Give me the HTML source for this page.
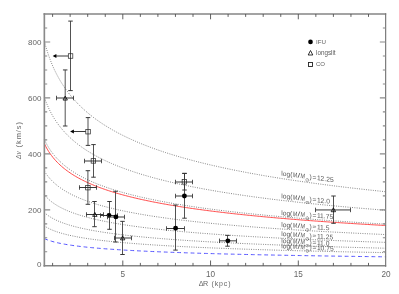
<!DOCTYPE html>
<html><head><meta charset="utf-8"><title>plot</title>
<style>html,body{margin:0;padding:0;background:#fff}svg{display:block;font-family:"Liberation Sans","DejaVu Sans",sans-serif}</style>
</head><body>
<div style="will-change:transform;width:399px;height:294px">
<svg width="399" height="294" viewBox="0 0 399 294">
<rect width="399" height="294" fill="#fff"/>
<path d="M44.40 41.31 L45.82 46.57 L47.25 51.29 L48.67 55.58 L50.09 59.50 L51.52 63.12 L52.94 66.48 L54.36 69.62 L55.79 72.56 L57.21 75.32 L58.64 77.94 L60.06 80.42 L61.48 82.77 L62.91 85.01 L64.33 87.15 L65.75 89.19 L67.18 91.15 L68.60 93.03 L70.02 94.84 L71.45 96.58 L72.87 98.26 L74.29 99.87 L75.72 101.44 L77.14 102.95 L78.56 104.41 L79.99 105.83 L81.41 107.21 L82.84 108.54 L84.26 109.84 L85.68 111.10 L87.11 112.32 L88.53 113.52 L89.95 114.68 L91.38 115.81 L92.80 116.92 L94.22 117.99 L95.65 119.05 L97.07 120.07 L98.49 121.08 L99.92 122.06 L101.34 123.02 L102.77 123.96 L104.19 124.88 L105.61 125.78 L107.04 126.66 L108.46 127.53 L109.88 128.38 L111.31 129.21 L112.73 130.02 L114.15 130.82 L115.58 131.61 L117.00 132.38 L118.42 133.13 L119.85 133.88 L121.27 134.61 L122.69 135.33 L124.12 136.03 L125.54 136.73 L126.97 137.41 L128.39 138.08 L129.81 138.74 L131.24 139.39 L132.66 140.03 L134.08 140.66 L135.51 141.29 L136.93 141.90 L138.35 142.50 L139.78 143.09 L141.20 143.68 L142.62 144.26 L144.05 144.82 L145.47 145.39 L146.90 145.94 L148.32 146.48 L149.74 147.02 L151.17 147.55 L152.59 148.08 L154.01 148.59 L155.44 149.10 L156.86 149.61 L158.28 150.11 L159.71 150.60 L161.13 151.08 L162.55 151.56 L163.98 152.03 L165.40 152.50 L166.82 152.96 L168.25 153.42 L169.67 153.87 L171.10 154.32 L172.52 154.76 L173.94 155.19 L175.37 155.62 L176.79 156.05 L178.21 156.47 L179.64 156.89 L181.06 157.30 L182.48 157.71 L183.91 158.11 L185.33 158.51 L186.75 158.90 L188.18 159.29 L189.60 159.68 L191.02 160.06 L192.45 160.44 L193.87 160.82 L195.30 161.19 L196.72 161.55 L198.14 161.92 L199.57 162.28 L200.99 162.64 L202.41 162.99 L203.84 163.34 L205.26 163.68 L206.68 164.03 L208.11 164.37 L209.53 164.70 L210.95 165.04 L212.38 165.37 L213.80 165.70 L215.22 166.02 L216.65 166.34 L218.07 166.66 L219.50 166.98 L220.92 167.29 L222.34 167.60 L223.77 167.91 L225.19 168.21 L226.61 168.52 L228.04 168.82 L229.46 169.11 L230.88 169.41 L232.31 169.70 L233.73 169.99 L235.15 170.28 L236.58 170.56 L238.00 170.84 L239.43 171.13 L240.85 171.40 L242.27 171.68 L243.70 171.95 L245.12 172.22 L246.54 172.49 L247.97 172.76 L249.39 173.03 L250.81 173.29 L252.24 173.55 L253.66 173.81 L255.08 174.07 L256.51 174.32 L257.93 174.58 L259.35 174.83 L260.78 175.08 L262.20 175.33 L263.63 175.57 L265.05 175.82 L266.47 176.06 L267.90 176.30 L269.32 176.54 L270.74 176.78 L272.17 177.01 L273.59 177.24 L275.01 177.48 L276.44 177.71 L277.86 177.94 L279.28 178.16 L280.71 178.39 L282.13 178.61 L283.56 178.84 L284.98 179.06 L286.40 179.28 L287.83 179.50 L289.25 179.71 L290.67 179.93 L292.10 180.14 L293.52 180.35 L294.94 180.57 L296.37 180.78 L297.79 180.98 L299.21 181.19 L300.64 181.40 L302.06 181.60 L303.48 181.80 L304.91 182.01 L306.33 182.21 L307.76 182.41 L309.18 182.60 L310.60 182.80 L312.03 183.00 L313.45 183.19 L314.87 183.38 L316.30 183.57 L317.72 183.77 L319.14 183.96 L320.57 184.14 L321.99 184.33 L323.41 184.52 L324.84 184.70 L326.26 184.89 L327.68 185.07 L329.11 185.25 L330.53 185.43 L331.96 185.61 L333.38 185.79 L334.80 185.97 L336.23 186.14 L337.65 186.32 L339.07 186.50 L340.50 186.67 L341.92 186.84 L343.34 187.01 L344.77 187.18 L346.19 187.35 L347.61 187.52 L349.04 187.69 L350.46 187.86 L351.89 188.02 L353.31 188.19 L354.73 188.35 L356.16 188.52 L357.58 188.68 L359.00 188.84 L360.43 189.00 L361.85 189.16 L363.27 189.32 L364.70 189.48 L366.12 189.63 L367.54 189.79 L368.97 189.95 L370.39 190.10 L371.81 190.26 L373.24 190.41 L374.66 190.56 L376.09 190.71 L377.51 190.86 L378.93 191.01 L380.36 191.16 L381.78 191.31 L383.20 191.46 L384.63 191.61 L386.05 191.75" fill="none" stroke="#6a6a6a" stroke-width="0.9" stroke-dasharray="0.9 1.4"/>
<path d="M44.40 97.46 L45.82 101.40 L47.25 104.94 L48.67 108.15 L50.09 111.10 L51.52 113.81 L52.94 116.33 L54.36 118.68 L55.79 120.89 L57.21 122.96 L58.64 124.92 L60.06 126.78 L61.48 128.55 L62.91 130.23 L64.33 131.83 L65.75 133.36 L67.18 134.83 L68.60 136.24 L70.02 137.60 L71.45 138.90 L72.87 140.16 L74.29 141.37 L75.72 142.55 L77.14 143.68 L78.56 144.78 L79.99 145.84 L81.41 146.87 L82.84 147.87 L84.26 148.84 L85.68 149.79 L87.11 150.71 L88.53 151.60 L89.95 152.47 L91.38 153.32 L92.80 154.15 L94.22 154.96 L95.65 155.75 L97.07 156.52 L98.49 157.27 L99.92 158.01 L101.34 158.73 L102.77 159.44 L104.19 160.13 L105.61 160.80 L107.04 161.46 L108.46 162.11 L109.88 162.75 L111.31 163.37 L112.73 163.98 L114.15 164.58 L115.58 165.17 L117.00 165.75 L118.42 166.31 L119.85 166.87 L121.27 167.42 L122.69 167.96 L124.12 168.49 L125.54 169.01 L126.97 169.52 L128.39 170.03 L129.81 170.52 L131.24 171.01 L132.66 171.49 L134.08 171.96 L135.51 172.43 L136.93 172.89 L138.35 173.34 L139.78 173.78 L141.20 174.22 L142.62 174.65 L144.05 175.08 L145.47 175.50 L146.90 175.92 L148.32 176.33 L149.74 176.73 L151.17 177.13 L152.59 177.52 L154.01 177.91 L155.44 178.29 L156.86 178.67 L158.28 179.04 L159.71 179.41 L161.13 179.77 L162.55 180.13 L163.98 180.49 L165.40 180.84 L166.82 181.18 L168.25 181.53 L169.67 181.86 L171.10 182.20 L172.52 182.53 L173.94 182.86 L175.37 183.18 L176.79 183.50 L178.21 183.81 L179.64 184.13 L181.06 184.44 L182.48 184.74 L183.91 185.04 L185.33 185.34 L186.75 185.64 L188.18 185.93 L189.60 186.22 L191.02 186.51 L192.45 186.79 L193.87 187.07 L195.30 187.35 L196.72 187.63 L198.14 187.90 L199.57 188.17 L200.99 188.44 L202.41 188.70 L203.84 188.96 L205.26 189.22 L206.68 189.48 L208.11 189.74 L209.53 189.99 L210.95 190.24 L212.38 190.49 L213.80 190.73 L215.22 190.98 L216.65 191.22 L218.07 191.46 L219.50 191.69 L220.92 191.93 L222.34 192.16 L223.77 192.39 L225.19 192.62 L226.61 192.85 L228.04 193.07 L229.46 193.29 L230.88 193.52 L232.31 193.73 L233.73 193.95 L235.15 194.17 L236.58 194.38 L238.00 194.59 L239.43 194.80 L240.85 195.01 L242.27 195.22 L243.70 195.42 L245.12 195.63 L246.54 195.83 L247.97 196.03 L249.39 196.23 L250.81 196.43 L252.24 196.62 L253.66 196.82 L255.08 197.01 L256.51 197.20 L257.93 197.39 L259.35 197.58 L260.78 197.77 L262.20 197.95 L263.63 198.14 L265.05 198.32 L266.47 198.50 L267.90 198.68 L269.32 198.86 L270.74 199.04 L272.17 199.22 L273.59 199.39 L275.01 199.57 L276.44 199.74 L277.86 199.91 L279.28 200.08 L280.71 200.25 L282.13 200.42 L283.56 200.59 L284.98 200.75 L286.40 200.92 L287.83 201.08 L289.25 201.24 L290.67 201.40 L292.10 201.57 L293.52 201.72 L294.94 201.88 L296.37 202.04 L297.79 202.20 L299.21 202.35 L300.64 202.51 L302.06 202.66 L303.48 202.81 L304.91 202.96 L306.33 203.11 L307.76 203.26 L309.18 203.41 L310.60 203.56 L312.03 203.71 L313.45 203.85 L314.87 204.00 L316.30 204.14 L317.72 204.28 L319.14 204.43 L320.57 204.57 L321.99 204.71 L323.41 204.85 L324.84 204.99 L326.26 205.12 L327.68 205.26 L329.11 205.40 L330.53 205.53 L331.96 205.67 L333.38 205.80 L334.80 205.93 L336.23 206.07 L337.65 206.20 L339.07 206.33 L340.50 206.46 L341.92 206.59 L343.34 206.72 L344.77 206.85 L346.19 206.97 L347.61 207.10 L349.04 207.23 L350.46 207.35 L351.89 207.48 L353.31 207.60 L354.73 207.72 L356.16 207.85 L357.58 207.97 L359.00 208.09 L360.43 208.21 L361.85 208.33 L363.27 208.45 L364.70 208.57 L366.12 208.68 L367.54 208.80 L368.97 208.92 L370.39 209.03 L371.81 209.15 L373.24 209.26 L374.66 209.38 L376.09 209.49 L377.51 209.61 L378.93 209.72 L380.36 209.83 L381.78 209.94 L383.20 210.05 L384.63 210.16 L386.05 210.27" fill="none" stroke="#6a6a6a" stroke-width="0.9" stroke-dasharray="0.9 1.4"/>
<path d="M44.40 139.56 L45.82 142.52 L47.25 145.17 L48.67 147.58 L50.09 149.79 L51.52 151.82 L52.94 153.71 L54.36 155.48 L55.79 157.13 L57.21 158.69 L58.64 160.16 L60.06 161.55 L61.48 162.87 L62.91 164.13 L64.33 165.34 L65.75 166.49 L67.18 167.59 L68.60 168.65 L70.02 169.66 L71.45 170.64 L72.87 171.58 L74.29 172.49 L75.72 173.37 L77.14 174.22 L78.56 175.05 L79.99 175.84 L81.41 176.62 L82.84 177.37 L84.26 178.10 L85.68 178.80 L87.11 179.49 L88.53 180.16 L89.95 180.82 L91.38 181.46 L92.80 182.08 L94.22 182.68 L95.65 183.27 L97.07 183.85 L98.49 184.42 L99.92 184.97 L101.34 185.51 L102.77 186.04 L104.19 186.56 L105.61 187.06 L107.04 187.56 L108.46 188.04 L109.88 188.52 L111.31 188.99 L112.73 189.45 L114.15 189.90 L115.58 190.34 L117.00 190.77 L118.42 191.20 L119.85 191.61 L121.27 192.03 L122.69 192.43 L124.12 192.83 L125.54 193.22 L126.97 193.60 L128.39 193.98 L129.81 194.35 L131.24 194.72 L132.66 195.08 L134.08 195.43 L135.51 195.78 L136.93 196.12 L138.35 196.46 L139.78 196.80 L141.20 197.13 L142.62 197.45 L144.05 197.77 L145.47 198.09 L146.90 198.40 L148.32 198.70 L149.74 199.01 L151.17 199.30 L152.59 199.60 L154.01 199.89 L155.44 200.18 L156.86 200.46 L158.28 200.74 L159.71 201.02 L161.13 201.29 L162.55 201.56 L163.98 201.82 L165.40 202.09 L166.82 202.35 L168.25 202.60 L169.67 202.86 L171.10 203.11 L172.52 203.36 L173.94 203.60 L175.37 203.84 L176.79 204.08 L178.21 204.32 L179.64 204.55 L181.06 204.79 L182.48 205.01 L183.91 205.24 L185.33 205.47 L186.75 205.69 L188.18 205.91 L189.60 206.12 L191.02 206.34 L192.45 206.55 L193.87 206.76 L195.30 206.97 L196.72 207.18 L198.14 207.38 L199.57 207.59 L200.99 207.79 L202.41 207.98 L203.84 208.18 L205.26 208.38 L206.68 208.57 L208.11 208.76 L209.53 208.95 L210.95 209.14 L212.38 209.32 L213.80 209.51 L215.22 209.69 L216.65 209.87 L218.07 210.05 L219.50 210.23 L220.92 210.40 L222.34 210.58 L223.77 210.75 L225.19 210.92 L226.61 211.09 L228.04 211.26 L229.46 211.43 L230.88 211.59 L232.31 211.76 L233.73 211.92 L235.15 212.08 L236.58 212.24 L238.00 212.40 L239.43 212.56 L240.85 212.72 L242.27 212.87 L243.70 213.03 L245.12 213.18 L246.54 213.33 L247.97 213.48 L249.39 213.63 L250.81 213.78 L252.24 213.92 L253.66 214.07 L255.08 214.22 L256.51 214.36 L257.93 214.50 L259.35 214.64 L260.78 214.78 L262.20 214.92 L263.63 215.06 L265.05 215.20 L266.47 215.33 L267.90 215.47 L269.32 215.60 L270.74 215.74 L272.17 215.87 L273.59 216.00 L275.01 216.13 L276.44 216.26 L277.86 216.39 L279.28 216.52 L280.71 216.65 L282.13 216.77 L283.56 216.90 L284.98 217.02 L286.40 217.14 L287.83 217.27 L289.25 217.39 L290.67 217.51 L292.10 217.63 L293.52 217.75 L294.94 217.87 L296.37 217.99 L297.79 218.10 L299.21 218.22 L300.64 218.34 L302.06 218.45 L303.48 218.57 L304.91 218.68 L306.33 218.79 L307.76 218.90 L309.18 219.01 L310.60 219.13 L312.03 219.24 L313.45 219.34 L314.87 219.45 L316.30 219.56 L317.72 219.67 L319.14 219.78 L320.57 219.88 L321.99 219.99 L323.41 220.09 L324.84 220.20 L326.26 220.30 L327.68 220.40 L329.11 220.50 L330.53 220.61 L331.96 220.71 L333.38 220.81 L334.80 220.91 L336.23 221.01 L337.65 221.11 L339.07 221.20 L340.50 221.30 L341.92 221.40 L343.34 221.49 L344.77 221.59 L346.19 221.69 L347.61 221.78 L349.04 221.88 L350.46 221.97 L351.89 222.06 L353.31 222.16 L354.73 222.25 L356.16 222.34 L357.58 222.43 L359.00 222.52 L360.43 222.61 L361.85 222.70 L363.27 222.79 L364.70 222.88 L366.12 222.97 L367.54 223.06 L368.97 223.14 L370.39 223.23 L371.81 223.32 L373.24 223.40 L374.66 223.49 L376.09 223.58 L377.51 223.66 L378.93 223.74 L380.36 223.83 L381.78 223.91 L383.20 224.00 L384.63 224.08 L386.05 224.16" fill="none" stroke="#6a6a6a" stroke-width="0.9" stroke-dasharray="0.9 1.4"/>
<path d="M44.40 171.13 L45.82 173.35 L47.25 175.34 L48.67 177.15 L50.09 178.80 L51.52 180.33 L52.94 181.75 L54.36 183.07 L55.79 184.31 L57.21 185.48 L58.64 186.58 L60.06 187.62 L61.48 188.62 L62.91 189.56 L64.33 190.46 L65.75 191.33 L67.18 192.15 L68.60 192.94 L70.02 193.71 L71.45 194.44 L72.87 195.15 L74.29 195.83 L75.72 196.49 L77.14 197.13 L78.56 197.74 L79.99 198.34 L81.41 198.92 L82.84 199.48 L84.26 200.03 L85.68 200.56 L87.11 201.08 L88.53 201.58 L89.95 202.07 L91.38 202.55 L92.80 203.02 L94.22 203.47 L95.65 203.91 L97.07 204.35 L98.49 204.77 L99.92 205.19 L101.34 205.59 L102.77 205.99 L104.19 206.37 L105.61 206.75 L107.04 207.13 L108.46 207.49 L109.88 207.85 L111.31 208.20 L112.73 208.54 L114.15 208.88 L115.58 209.21 L117.00 209.54 L118.42 209.86 L119.85 210.17 L121.27 210.48 L122.69 210.78 L124.12 211.08 L125.54 211.37 L126.97 211.66 L128.39 211.94 L129.81 212.22 L131.24 212.49 L132.66 212.76 L134.08 213.03 L135.51 213.29 L136.93 213.55 L138.35 213.80 L139.78 214.06 L141.20 214.30 L142.62 214.55 L144.05 214.79 L145.47 215.02 L146.90 215.25 L148.32 215.48 L149.74 215.71 L151.17 215.94 L152.59 216.16 L154.01 216.37 L155.44 216.59 L156.86 216.80 L158.28 217.01 L159.71 217.22 L161.13 217.42 L162.55 217.63 L163.98 217.83 L165.40 218.02 L166.82 218.22 L168.25 218.41 L169.67 218.60 L171.10 218.79 L172.52 218.97 L173.94 219.16 L175.37 219.34 L176.79 219.52 L178.21 219.70 L179.64 219.87 L181.06 220.05 L182.48 220.22 L183.91 220.39 L185.33 220.56 L186.75 220.72 L188.18 220.89 L189.60 221.05 L191.02 221.21 L192.45 221.37 L193.87 221.53 L195.30 221.69 L196.72 221.84 L198.14 221.99 L199.57 222.15 L200.99 222.30 L202.41 222.44 L203.84 222.59 L205.26 222.74 L206.68 222.88 L208.11 223.03 L209.53 223.17 L210.95 223.31 L212.38 223.45 L213.80 223.59 L215.22 223.72 L216.65 223.86 L218.07 223.99 L219.50 224.13 L220.92 224.26 L222.34 224.39 L223.77 224.52 L225.19 224.65 L226.61 224.78 L228.04 224.90 L229.46 225.03 L230.88 225.15 L232.31 225.27 L233.73 225.40 L235.15 225.52 L236.58 225.64 L238.00 225.76 L239.43 225.88 L240.85 225.99 L242.27 226.11 L243.70 226.23 L245.12 226.34 L246.54 226.45 L247.97 226.57 L249.39 226.68 L250.81 226.79 L252.24 226.90 L253.66 227.01 L255.08 227.12 L256.51 227.22 L257.93 227.33 L259.35 227.44 L260.78 227.54 L262.20 227.65 L263.63 227.75 L265.05 227.85 L266.47 227.96 L267.90 228.06 L269.32 228.16 L270.74 228.26 L272.17 228.36 L273.59 228.46 L275.01 228.55 L276.44 228.65 L277.86 228.75 L279.28 228.84 L280.71 228.94 L282.13 229.03 L283.56 229.13 L284.98 229.22 L286.40 229.31 L287.83 229.41 L289.25 229.50 L290.67 229.59 L292.10 229.68 L293.52 229.77 L294.94 229.86 L296.37 229.95 L297.79 230.03 L299.21 230.12 L300.64 230.21 L302.06 230.29 L303.48 230.38 L304.91 230.46 L306.33 230.55 L307.76 230.63 L309.18 230.72 L310.60 230.80 L312.03 230.88 L313.45 230.96 L314.87 231.05 L316.30 231.13 L317.72 231.21 L319.14 231.29 L320.57 231.37 L321.99 231.44 L323.41 231.52 L324.84 231.60 L326.26 231.68 L327.68 231.76 L329.11 231.83 L330.53 231.91 L331.96 231.98 L333.38 232.06 L334.80 232.14 L336.23 232.21 L337.65 232.28 L339.07 232.36 L340.50 232.43 L341.92 232.50 L343.34 232.58 L344.77 232.65 L346.19 232.72 L347.61 232.79 L349.04 232.86 L350.46 232.93 L351.89 233.00 L353.31 233.07 L354.73 233.14 L356.16 233.21 L357.58 233.28 L359.00 233.35 L360.43 233.41 L361.85 233.48 L363.27 233.55 L364.70 233.62 L366.12 233.68 L367.54 233.75 L368.97 233.81 L370.39 233.88 L371.81 233.94 L373.24 234.01 L374.66 234.07 L376.09 234.14 L377.51 234.20 L378.93 234.26 L380.36 234.33 L381.78 234.39 L383.20 234.45 L384.63 234.51 L386.05 234.57" fill="none" stroke="#6a6a6a" stroke-width="0.9" stroke-dasharray="0.9 1.4"/>
<path d="M44.40 194.81 L45.82 196.47 L47.25 197.97 L48.67 199.32 L50.09 200.56 L51.52 201.71 L52.94 202.77 L54.36 203.76 L55.79 204.69 L57.21 205.57 L58.64 206.39 L60.06 207.18 L61.48 207.92 L62.91 208.63 L64.33 209.31 L65.75 209.95 L67.18 210.57 L68.60 211.17 L70.02 211.74 L71.45 212.29 L72.87 212.82 L74.29 213.33 L75.72 213.82 L77.14 214.30 L78.56 214.76 L79.99 215.21 L81.41 215.65 L82.84 216.07 L84.26 216.48 L85.68 216.88 L87.11 217.27 L88.53 217.64 L89.95 218.01 L91.38 218.37 L92.80 218.72 L94.22 219.06 L95.65 219.39 L97.07 219.72 L98.49 220.04 L99.92 220.35 L101.34 220.65 L102.77 220.95 L104.19 221.24 L105.61 221.52 L107.04 221.80 L108.46 222.07 L109.88 222.34 L111.31 222.61 L112.73 222.86 L114.15 223.12 L115.58 223.36 L117.00 223.61 L118.42 223.85 L119.85 224.08 L121.27 224.31 L122.69 224.54 L124.12 224.76 L125.54 224.98 L126.97 225.20 L128.39 225.41 L129.81 225.62 L131.24 225.83 L132.66 226.03 L134.08 226.23 L135.51 226.43 L136.93 226.62 L138.35 226.81 L139.78 227.00 L141.20 227.18 L142.62 227.36 L144.05 227.54 L145.47 227.72 L146.90 227.90 L148.32 228.07 L149.74 228.24 L151.17 228.41 L152.59 228.57 L154.01 228.74 L155.44 228.90 L156.86 229.06 L158.28 229.21 L159.71 229.37 L161.13 229.52 L162.55 229.67 L163.98 229.82 L165.40 229.97 L166.82 230.12 L168.25 230.26 L169.67 230.40 L171.10 230.55 L172.52 230.69 L173.94 230.82 L175.37 230.96 L176.79 231.09 L178.21 231.23 L179.64 231.36 L181.06 231.49 L182.48 231.62 L183.91 231.75 L185.33 231.87 L186.75 232.00 L188.18 232.12 L189.60 232.24 L191.02 232.36 L192.45 232.48 L193.87 232.60 L195.30 232.72 L196.72 232.83 L198.14 232.95 L199.57 233.06 L200.99 233.18 L202.41 233.29 L203.84 233.40 L205.26 233.51 L206.68 233.62 L208.11 233.72 L209.53 233.83 L210.95 233.94 L212.38 234.04 L213.80 234.14 L215.22 234.25 L216.65 234.35 L218.07 234.45 L219.50 234.55 L220.92 234.65 L222.34 234.75 L223.77 234.84 L225.19 234.94 L226.61 235.04 L228.04 235.13 L229.46 235.22 L230.88 235.32 L232.31 235.41 L233.73 235.50 L235.15 235.59 L236.58 235.68 L238.00 235.77 L239.43 235.86 L240.85 235.95 L242.27 236.04 L243.70 236.12 L245.12 236.21 L246.54 236.29 L247.97 236.38 L249.39 236.46 L250.81 236.55 L252.24 236.63 L253.66 236.71 L255.08 236.79 L256.51 236.87 L257.93 236.95 L259.35 237.03 L260.78 237.11 L262.20 237.19 L263.63 237.27 L265.05 237.34 L266.47 237.42 L267.90 237.50 L269.32 237.57 L270.74 237.65 L272.17 237.72 L273.59 237.80 L275.01 237.87 L276.44 237.94 L277.86 238.02 L279.28 238.09 L280.71 238.16 L282.13 238.23 L283.56 238.30 L284.98 238.37 L286.40 238.44 L287.83 238.51 L289.25 238.58 L290.67 238.64 L292.10 238.71 L293.52 238.78 L294.94 238.85 L296.37 238.91 L297.79 238.98 L299.21 239.04 L300.64 239.11 L302.06 239.17 L303.48 239.24 L304.91 239.30 L306.33 239.37 L307.76 239.43 L309.18 239.49 L310.60 239.55 L312.03 239.61 L313.45 239.68 L314.87 239.74 L316.30 239.80 L317.72 239.86 L319.14 239.92 L320.57 239.98 L321.99 240.04 L323.41 240.10 L324.84 240.15 L326.26 240.21 L327.68 240.27 L329.11 240.33 L330.53 240.39 L331.96 240.44 L333.38 240.50 L334.80 240.56 L336.23 240.61 L337.65 240.67 L339.07 240.72 L340.50 240.78 L341.92 240.83 L343.34 240.89 L344.77 240.94 L346.19 240.99 L347.61 241.05 L349.04 241.10 L350.46 241.15 L351.89 241.20 L353.31 241.26 L354.73 241.31 L356.16 241.36 L357.58 241.41 L359.00 241.46 L360.43 241.51 L361.85 241.56 L363.27 241.61 L364.70 241.66 L366.12 241.71 L367.54 241.76 L368.97 241.81 L370.39 241.86 L371.81 241.91 L373.24 241.96 L374.66 242.01 L376.09 242.06 L377.51 242.10 L378.93 242.15 L380.36 242.20 L381.78 242.24 L383.20 242.29 L384.63 242.34 L386.05 242.38" fill="none" stroke="#6a6a6a" stroke-width="0.9" stroke-dasharray="0.9 1.4"/>
<path d="M44.40 212.57 L45.82 213.81 L47.25 214.93 L48.67 215.95 L50.09 216.88 L51.52 217.74 L52.94 218.53 L54.36 219.28 L55.79 219.97 L57.21 220.63 L58.64 221.25 L60.06 221.84 L61.48 222.40 L62.91 222.93 L64.33 223.43 L65.75 223.92 L67.18 224.38 L68.60 224.83 L70.02 225.26 L71.45 225.67 L72.87 226.07 L74.29 226.45 L75.72 226.82 L77.14 227.18 L78.56 227.53 L79.99 227.87 L81.41 228.19 L82.84 228.51 L84.26 228.82 L85.68 229.11 L87.11 229.40 L88.53 229.69 L89.95 229.96 L91.38 230.23 L92.80 230.49 L94.22 230.75 L95.65 231.00 L97.07 231.24 L98.49 231.48 L99.92 231.71 L101.34 231.94 L102.77 232.16 L104.19 232.38 L105.61 232.60 L107.04 232.81 L108.46 233.01 L109.88 233.21 L111.31 233.41 L112.73 233.60 L114.15 233.79 L115.58 233.98 L117.00 234.16 L118.42 234.34 L119.85 234.52 L121.27 234.69 L122.69 234.86 L124.12 235.03 L125.54 235.19 L126.97 235.35 L128.39 235.51 L129.81 235.67 L131.24 235.82 L132.66 235.98 L134.08 236.13 L135.51 236.27 L136.93 236.42 L138.35 236.56 L139.78 236.70 L141.20 236.84 L142.62 236.98 L144.05 237.11 L145.47 237.25 L146.90 237.38 L148.32 237.51 L149.74 237.63 L151.17 237.76 L152.59 237.88 L154.01 238.01 L155.44 238.13 L156.86 238.25 L158.28 238.36 L159.71 238.48 L161.13 238.60 L162.55 238.71 L163.98 238.82 L165.40 238.93 L166.82 239.04 L168.25 239.15 L169.67 239.26 L171.10 239.36 L172.52 239.47 L173.94 239.57 L175.37 239.67 L176.79 239.77 L178.21 239.87 L179.64 239.97 L181.06 240.07 L182.48 240.17 L183.91 240.26 L185.33 240.36 L186.75 240.45 L188.18 240.54 L189.60 240.64 L191.02 240.73 L192.45 240.82 L193.87 240.90 L195.30 240.99 L196.72 241.08 L198.14 241.17 L199.57 241.25 L200.99 241.34 L202.41 241.42 L203.84 241.50 L205.26 241.58 L206.68 241.67 L208.11 241.75 L209.53 241.83 L210.95 241.91 L212.38 241.98 L213.80 242.06 L215.22 242.14 L216.65 242.21 L218.07 242.29 L219.50 242.37 L220.92 242.44 L222.34 242.51 L223.77 242.59 L225.19 242.66 L226.61 242.73 L228.04 242.80 L229.46 242.87 L230.88 242.94 L232.31 243.01 L233.73 243.08 L235.15 243.15 L236.58 243.22 L238.00 243.28 L239.43 243.35 L240.85 243.42 L242.27 243.48 L243.70 243.55 L245.12 243.61 L246.54 243.67 L247.97 243.74 L249.39 243.80 L250.81 243.86 L252.24 243.92 L253.66 243.99 L255.08 244.05 L256.51 244.11 L257.93 244.17 L259.35 244.23 L260.78 244.29 L262.20 244.35 L263.63 244.40 L265.05 244.46 L266.47 244.52 L267.90 244.58 L269.32 244.63 L270.74 244.69 L272.17 244.74 L273.59 244.80 L275.01 244.86 L276.44 244.91 L277.86 244.96 L279.28 245.02 L280.71 245.07 L282.13 245.12 L283.56 245.18 L284.98 245.23 L286.40 245.28 L287.83 245.33 L289.25 245.39 L290.67 245.44 L292.10 245.49 L293.52 245.54 L294.94 245.59 L296.37 245.64 L297.79 245.69 L299.21 245.74 L300.64 245.78 L302.06 245.83 L303.48 245.88 L304.91 245.93 L306.33 245.98 L307.76 246.02 L309.18 246.07 L310.60 246.12 L312.03 246.16 L313.45 246.21 L314.87 246.26 L316.30 246.30 L317.72 246.35 L319.14 246.39 L320.57 246.44 L321.99 246.48 L323.41 246.52 L324.84 246.57 L326.26 246.61 L327.68 246.66 L329.11 246.70 L330.53 246.74 L331.96 246.78 L333.38 246.83 L334.80 246.87 L336.23 246.91 L337.65 246.95 L339.07 246.99 L340.50 247.04 L341.92 247.08 L343.34 247.12 L344.77 247.16 L346.19 247.20 L347.61 247.24 L349.04 247.28 L350.46 247.32 L351.89 247.36 L353.31 247.40 L354.73 247.43 L356.16 247.47 L357.58 247.51 L359.00 247.55 L360.43 247.59 L361.85 247.63 L363.27 247.66 L364.70 247.70 L366.12 247.74 L367.54 247.78 L368.97 247.81 L370.39 247.85 L371.81 247.89 L373.24 247.92 L374.66 247.96 L376.09 247.99 L377.51 248.03 L378.93 248.07 L380.36 248.10 L381.78 248.14 L383.20 248.17 L384.63 248.21 L386.05 248.24" fill="none" stroke="#6a6a6a" stroke-width="0.9" stroke-dasharray="0.9 1.4"/>
<path d="M44.40 225.88 L45.82 226.82 L47.25 227.65 L48.67 228.42 L50.09 229.11 L51.52 229.76 L52.94 230.36 L54.36 230.91 L55.79 231.44 L57.21 231.93 L58.64 232.39 L60.06 232.83 L61.48 233.25 L62.91 233.65 L64.33 234.03 L65.75 234.39 L67.18 234.74 L68.60 235.08 L70.02 235.40 L71.45 235.71 L72.87 236.01 L74.29 236.29 L75.72 236.57 L77.14 236.84 L78.56 237.10 L79.99 237.35 L81.41 237.60 L82.84 237.83 L84.26 238.07 L85.68 238.29 L87.11 238.51 L88.53 238.72 L89.95 238.93 L91.38 239.13 L92.80 239.32 L94.22 239.52 L95.65 239.70 L97.07 239.89 L98.49 240.06 L99.92 240.24 L101.34 240.41 L102.77 240.58 L104.19 240.74 L105.61 240.90 L107.04 241.06 L108.46 241.21 L109.88 241.36 L111.31 241.51 L112.73 241.65 L114.15 241.80 L115.58 241.94 L117.00 242.07 L118.42 242.21 L119.85 242.34 L121.27 242.47 L122.69 242.60 L124.12 242.72 L125.54 242.85 L126.97 242.97 L128.39 243.09 L129.81 243.21 L131.24 243.32 L132.66 243.44 L134.08 243.55 L135.51 243.66 L136.93 243.77 L138.35 243.87 L139.78 243.98 L141.20 244.08 L142.62 244.19 L144.05 244.29 L145.47 244.39 L146.90 244.49 L148.32 244.58 L149.74 244.68 L151.17 244.77 L152.59 244.87 L154.01 244.96 L155.44 245.05 L156.86 245.14 L158.28 245.23 L159.71 245.31 L161.13 245.40 L162.55 245.49 L163.98 245.57 L165.40 245.65 L166.82 245.73 L168.25 245.82 L169.67 245.90 L171.10 245.98 L172.52 246.05 L173.94 246.13 L175.37 246.21 L176.79 246.28 L178.21 246.36 L179.64 246.43 L181.06 246.51 L182.48 246.58 L183.91 246.65 L185.33 246.72 L186.75 246.79 L188.18 246.86 L189.60 246.93 L191.02 247.00 L192.45 247.06 L193.87 247.13 L195.30 247.20 L196.72 247.26 L198.14 247.33 L199.57 247.39 L200.99 247.45 L202.41 247.52 L203.84 247.58 L205.26 247.64 L206.68 247.70 L208.11 247.76 L209.53 247.82 L210.95 247.88 L212.38 247.94 L213.80 248.00 L215.22 248.06 L216.65 248.11 L218.07 248.17 L219.50 248.23 L220.92 248.28 L222.34 248.34 L223.77 248.39 L225.19 248.45 L226.61 248.50 L228.04 248.55 L229.46 248.61 L230.88 248.66 L232.31 248.71 L233.73 248.76 L235.15 248.81 L236.58 248.86 L238.00 248.91 L239.43 248.96 L240.85 249.01 L242.27 249.06 L243.70 249.11 L245.12 249.16 L246.54 249.21 L247.97 249.26 L249.39 249.30 L250.81 249.35 L252.24 249.40 L253.66 249.44 L255.08 249.49 L256.51 249.53 L257.93 249.58 L259.35 249.62 L260.78 249.67 L262.20 249.71 L263.63 249.75 L265.05 249.80 L266.47 249.84 L267.90 249.88 L269.32 249.93 L270.74 249.97 L272.17 250.01 L273.59 250.05 L275.01 250.09 L276.44 250.13 L277.86 250.18 L279.28 250.22 L280.71 250.26 L282.13 250.30 L283.56 250.34 L284.98 250.37 L286.40 250.41 L287.83 250.45 L289.25 250.49 L290.67 250.53 L292.10 250.57 L293.52 250.61 L294.94 250.64 L296.37 250.68 L297.79 250.72 L299.21 250.75 L300.64 250.79 L302.06 250.83 L303.48 250.86 L304.91 250.90 L306.33 250.93 L307.76 250.97 L309.18 251.01 L310.60 251.04 L312.03 251.08 L313.45 251.11 L314.87 251.14 L316.30 251.18 L317.72 251.21 L319.14 251.25 L320.57 251.28 L321.99 251.31 L323.41 251.35 L324.84 251.38 L326.26 251.41 L327.68 251.44 L329.11 251.48 L330.53 251.51 L331.96 251.54 L333.38 251.57 L334.80 251.60 L336.23 251.64 L337.65 251.67 L339.07 251.70 L340.50 251.73 L341.92 251.76 L343.34 251.79 L344.77 251.82 L346.19 251.85 L347.61 251.88 L349.04 251.91 L350.46 251.94 L351.89 251.97 L353.31 252.00 L354.73 252.03 L356.16 252.06 L357.58 252.09 L359.00 252.11 L360.43 252.14 L361.85 252.17 L363.27 252.20 L364.70 252.23 L366.12 252.26 L367.54 252.28 L368.97 252.31 L370.39 252.34 L371.81 252.37 L373.24 252.39 L374.66 252.42 L376.09 252.45 L377.51 252.47 L378.93 252.50 L380.36 252.53 L381.78 252.55 L383.20 252.58 L384.63 252.61 L386.05 252.63" fill="none" stroke="#6a6a6a" stroke-width="0.9" stroke-dasharray="0.9 1.4"/>
<path d="M44.40 143.73 L45.82 146.59 L47.25 149.16 L48.67 151.49 L50.09 153.62 L51.52 155.59 L52.94 157.42 L54.36 159.12 L55.79 160.72 L57.21 162.23 L58.64 163.65 L60.06 165.00 L61.48 166.28 L62.91 167.50 L64.33 168.66 L65.75 169.77 L67.18 170.84 L68.60 171.86 L70.02 172.84 L71.45 173.79 L72.87 174.70 L74.29 175.58 L75.72 176.43 L77.14 177.25 L78.56 178.05 L79.99 178.82 L81.41 179.56 L82.84 180.29 L84.26 180.99 L85.68 181.68 L87.11 182.35 L88.53 183.00 L89.95 183.63 L91.38 184.24 L92.80 184.84 L94.22 185.43 L95.65 186.00 L97.07 186.56 L98.49 187.11 L99.92 187.64 L101.34 188.16 L102.77 188.67 L104.19 189.17 L105.61 189.66 L107.04 190.14 L108.46 190.61 L109.88 191.08 L111.31 191.53 L112.73 191.97 L114.15 192.41 L115.58 192.83 L117.00 193.25 L118.42 193.66 L119.85 194.07 L121.27 194.46 L122.69 194.86 L124.12 195.24 L125.54 195.62 L126.97 195.99 L128.39 196.35 L129.81 196.71 L131.24 197.07 L132.66 197.41 L134.08 197.76 L135.51 198.10 L136.93 198.43 L138.35 198.76 L139.78 199.08 L141.20 199.40 L142.62 199.71 L144.05 200.02 L145.47 200.32 L146.90 200.63 L148.32 200.92 L149.74 201.21 L151.17 201.50 L152.59 201.79 L154.01 202.07 L155.44 202.35 L156.86 202.62 L158.28 202.89 L159.71 203.16 L161.13 203.42 L162.55 203.68 L163.98 203.94 L165.40 204.19 L166.82 204.44 L168.25 204.69 L169.67 204.94 L171.10 205.18 L172.52 205.42 L173.94 205.66 L175.37 205.89 L176.79 206.12 L178.21 206.35 L179.64 206.58 L181.06 206.80 L182.48 207.02 L183.91 207.24 L185.33 207.46 L186.75 207.68 L188.18 207.89 L189.60 208.10 L191.02 208.31 L192.45 208.51 L193.87 208.72 L195.30 208.92 L196.72 209.12 L198.14 209.31 L199.57 209.51 L200.99 209.70 L202.41 209.90 L203.84 210.09 L205.26 210.27 L206.68 210.46 L208.11 210.65 L209.53 210.83 L210.95 211.01 L212.38 211.19 L213.80 211.37 L215.22 211.54 L216.65 211.72 L218.07 211.89 L219.50 212.06 L220.92 212.24 L222.34 212.40 L223.77 212.57 L225.19 212.74 L226.61 212.90 L228.04 213.06 L229.46 213.23 L230.88 213.39 L232.31 213.55 L233.73 213.70 L235.15 213.86 L236.58 214.01 L238.00 214.17 L239.43 214.32 L240.85 214.47 L242.27 214.62 L243.70 214.77 L245.12 214.92 L246.54 215.07 L247.97 215.21 L249.39 215.35 L250.81 215.50 L252.24 215.64 L253.66 215.78 L255.08 215.92 L256.51 216.06 L257.93 216.20 L259.35 216.33 L260.78 216.47 L262.20 216.60 L263.63 216.74 L265.05 216.87 L266.47 217.00 L267.90 217.13 L269.32 217.26 L270.74 217.39 L272.17 217.52 L273.59 217.65 L275.01 217.77 L276.44 217.90 L277.86 218.02 L279.28 218.15 L280.71 218.27 L282.13 218.39 L283.56 218.51 L284.98 218.63 L286.40 218.75 L287.83 218.87 L289.25 218.99 L290.67 219.11 L292.10 219.22 L293.52 219.34 L294.94 219.45 L296.37 219.57 L297.79 219.68 L299.21 219.79 L300.64 219.91 L302.06 220.02 L303.48 220.13 L304.91 220.24 L306.33 220.35 L307.76 220.45 L309.18 220.56 L310.60 220.67 L312.03 220.78 L313.45 220.88 L314.87 220.99 L316.30 221.09 L317.72 221.19 L319.14 221.30 L320.57 221.40 L321.99 221.50 L323.41 221.60 L324.84 221.70 L326.26 221.80 L327.68 221.90 L329.11 222.00 L330.53 222.10 L331.96 222.20 L333.38 222.29 L334.80 222.39 L336.23 222.49 L337.65 222.58 L339.07 222.68 L340.50 222.77 L341.92 222.87 L343.34 222.96 L344.77 223.05 L346.19 223.14 L347.61 223.24 L349.04 223.33 L350.46 223.42 L351.89 223.51 L353.31 223.60 L354.73 223.69 L356.16 223.78 L357.58 223.87 L359.00 223.95 L360.43 224.04 L361.85 224.13 L363.27 224.21 L364.70 224.30 L366.12 224.39 L367.54 224.47 L368.97 224.55 L370.39 224.64 L371.81 224.72 L373.24 224.81 L374.66 224.89 L376.09 224.97 L377.51 225.05 L378.93 225.14 L380.36 225.22 L381.78 225.30 L383.20 225.38 L384.63 225.46 L386.05 225.54" fill="none" stroke="#ff4040" stroke-width="0.95"/>
<path d="M44.40 238.58 L45.82 239.22 L47.25 239.79 L48.67 240.31 L50.09 240.79 L51.52 241.22 L52.94 241.63 L54.36 242.01 L55.79 242.37 L57.21 242.70 L58.64 243.02 L60.06 243.32 L61.48 243.61 L62.91 243.88 L64.33 244.14 L65.75 244.39 L67.18 244.62 L68.60 244.85 L70.02 245.07 L71.45 245.28 L72.87 245.49 L74.29 245.68 L75.72 245.87 L77.14 246.05 L78.56 246.23 L79.99 246.40 L81.41 246.57 L82.84 246.73 L84.26 246.89 L85.68 247.04 L87.11 247.19 L88.53 247.34 L89.95 247.48 L91.38 247.61 L92.80 247.75 L94.22 247.88 L95.65 248.01 L97.07 248.13 L98.49 248.25 L99.92 248.37 L101.34 248.49 L102.77 248.60 L104.19 248.71 L105.61 248.82 L107.04 248.93 L108.46 249.03 L109.88 249.14 L111.31 249.24 L112.73 249.34 L114.15 249.43 L115.58 249.53 L117.00 249.62 L118.42 249.71 L119.85 249.80 L121.27 249.89 L122.69 249.98 L124.12 250.07 L125.54 250.15 L126.97 250.23 L128.39 250.31 L129.81 250.39 L131.24 250.47 L132.66 250.55 L134.08 250.63 L135.51 250.70 L136.93 250.78 L138.35 250.85 L139.78 250.92 L141.20 250.99 L142.62 251.06 L144.05 251.13 L145.47 251.20 L146.90 251.27 L148.32 251.33 L149.74 251.40 L151.17 251.46 L152.59 251.53 L154.01 251.59 L155.44 251.65 L156.86 251.71 L158.28 251.77 L159.71 251.83 L161.13 251.89 L162.55 251.95 L163.98 252.01 L165.40 252.06 L166.82 252.12 L168.25 252.17 L169.67 252.23 L171.10 252.28 L172.52 252.34 L173.94 252.39 L175.37 252.44 L176.79 252.49 L178.21 252.54 L179.64 252.59 L181.06 252.64 L182.48 252.69 L183.91 252.74 L185.33 252.79 L186.75 252.84 L188.18 252.89 L189.60 252.93 L191.02 252.98 L192.45 253.03 L193.87 253.07 L195.30 253.12 L196.72 253.16 L198.14 253.20 L199.57 253.25 L200.99 253.29 L202.41 253.33 L203.84 253.38 L205.26 253.42 L206.68 253.46 L208.11 253.50 L209.53 253.54 L210.95 253.58 L212.38 253.62 L213.80 253.66 L215.22 253.70 L216.65 253.74 L218.07 253.78 L219.50 253.82 L220.92 253.86 L222.34 253.89 L223.77 253.93 L225.19 253.97 L226.61 254.00 L228.04 254.04 L229.46 254.08 L230.88 254.11 L232.31 254.15 L233.73 254.18 L235.15 254.22 L236.58 254.25 L238.00 254.29 L239.43 254.32 L240.85 254.35 L242.27 254.39 L243.70 254.42 L245.12 254.45 L246.54 254.49 L247.97 254.52 L249.39 254.55 L250.81 254.58 L252.24 254.61 L253.66 254.65 L255.08 254.68 L256.51 254.71 L257.93 254.74 L259.35 254.77 L260.78 254.80 L262.20 254.83 L263.63 254.86 L265.05 254.89 L266.47 254.92 L267.90 254.95 L269.32 254.98 L270.74 255.01 L272.17 255.03 L273.59 255.06 L275.01 255.09 L276.44 255.12 L277.86 255.15 L279.28 255.17 L280.71 255.20 L282.13 255.23 L283.56 255.26 L284.98 255.28 L286.40 255.31 L287.83 255.34 L289.25 255.36 L290.67 255.39 L292.10 255.41 L293.52 255.44 L294.94 255.47 L296.37 255.49 L297.79 255.52 L299.21 255.54 L300.64 255.57 L302.06 255.59 L303.48 255.62 L304.91 255.64 L306.33 255.66 L307.76 255.69 L309.18 255.71 L310.60 255.74 L312.03 255.76 L313.45 255.78 L314.87 255.81 L316.30 255.83 L317.72 255.85 L319.14 255.88 L320.57 255.90 L321.99 255.92 L323.41 255.94 L324.84 255.97 L326.26 255.99 L327.68 256.01 L329.11 256.03 L330.53 256.06 L331.96 256.08 L333.38 256.10 L334.80 256.12 L336.23 256.14 L337.65 256.16 L339.07 256.18 L340.50 256.21 L341.92 256.23 L343.34 256.25 L344.77 256.27 L346.19 256.29 L347.61 256.31 L349.04 256.33 L350.46 256.35 L351.89 256.37 L353.31 256.39 L354.73 256.41 L356.16 256.43 L357.58 256.45 L359.00 256.47 L360.43 256.49 L361.85 256.51 L363.27 256.53 L364.70 256.55 L366.12 256.56 L367.54 256.58 L368.97 256.60 L370.39 256.62 L371.81 256.64 L373.24 256.66 L374.66 256.68 L376.09 256.70 L377.51 256.71 L378.93 256.73 L380.36 256.75 L381.78 256.77 L383.20 256.79 L384.63 256.80 L386.05 256.82" fill="none" stroke="#5252ff" stroke-width="1.0" stroke-dasharray="3.8 2.9"/>
<path d="M44.35 13.2 V266.65" stroke="#8a8a8a" stroke-width="1.65" fill="none"/>
<path d="M43.55 265.8 H386.2" stroke="#858585" stroke-width="1.55" fill="none"/>
<path d="M43.55 13.9 H386.2" stroke="#858585" stroke-width="1.45" fill="none"/>
<path d="M385.65 13.2 V266.65" stroke="#757575" stroke-width="1.15" fill="none"/>
<path d="M52.60 265.80 v-2.90 M52.60 14.00 v2.90 M70.15 265.80 v-2.90 M70.15 14.00 v2.90 M87.70 265.80 v-2.90 M87.70 14.00 v2.90 M105.25 265.80 v-2.90 M105.25 14.00 v2.90 M122.80 265.80 v-5.30 M122.80 14.00 v5.30 M140.35 265.80 v-2.90 M140.35 14.00 v2.90 M157.90 265.80 v-2.90 M157.90 14.00 v2.90 M175.45 265.80 v-2.90 M175.45 14.00 v2.90 M193.00 265.80 v-2.90 M193.00 14.00 v2.90 M210.55 265.80 v-5.30 M210.55 14.00 v5.30 M228.10 265.80 v-2.90 M228.10 14.00 v2.90 M245.65 265.80 v-2.90 M245.65 14.00 v2.90 M263.20 265.80 v-2.90 M263.20 14.00 v2.90 M280.75 265.80 v-2.90 M280.75 14.00 v2.90 M298.30 265.80 v-5.30 M298.30 14.00 v5.30 M315.85 265.80 v-2.90 M315.85 14.00 v2.90 M333.40 265.80 v-2.90 M333.40 14.00 v2.90 M350.95 265.80 v-2.90 M350.95 14.00 v2.90 M368.50 265.80 v-2.90 M368.50 14.00 v2.90" fill="none" stroke="#505050" stroke-width="0.9"/>
<path d="M44.40 251.81 h2.80 M385.65 251.81 h-2.80 M44.40 237.82 h2.80 M385.65 237.82 h-2.80 M44.40 223.83 h2.80 M385.65 223.83 h-2.80 M44.40 209.84 h5.80 M385.65 209.84 h-5.80 M44.40 195.85 h2.80 M385.65 195.85 h-2.80 M44.40 181.86 h2.80 M385.65 181.86 h-2.80 M44.40 167.87 h2.80 M385.65 167.87 h-2.80 M44.40 153.88 h5.80 M385.65 153.88 h-5.80 M44.40 139.89 h2.80 M385.65 139.89 h-2.80 M44.40 125.90 h2.80 M385.65 125.90 h-2.80 M44.40 111.91 h2.80 M385.65 111.91 h-2.80 M44.40 97.92 h5.80 M385.65 97.92 h-5.80 M44.40 83.93 h2.80 M385.65 83.93 h-2.80 M44.40 69.94 h2.80 M385.65 69.94 h-2.80 M44.40 55.95 h2.80 M385.65 55.95 h-2.80 M44.40 41.96 h5.80 M385.65 41.96 h-5.80 M44.40 27.97 h2.80 M385.65 27.97 h-2.80" fill="none" stroke="#8a8a8a" stroke-width="1.1"/>
<path d="M68.25 21.10 h4.50 M68.25 90.60 h4.50" fill="none" stroke="#2e2e2e" stroke-width="0.95"/>
<path d="M70.50 21.10 V90.60" fill="none" stroke="#333" stroke-width="0.85"/>
<path d="M68.26 56.00 H54.66" stroke="#2e2e2e" stroke-width="0.95"/>
<path d="M52.66 56.00 l3.7 -1.9 v3.8 z" fill="#000"/>
<rect x="68.31" y="53.75" width="4.50" height="4.50" fill="none" stroke="#222" stroke-width="0.7"/>
<path d="M85.75 117.60 h4.50 M85.75 145.40 h4.50" fill="none" stroke="#2e2e2e" stroke-width="0.95"/>
<path d="M88.00 117.60 V145.40" fill="none" stroke="#333" stroke-width="0.85"/>
<path d="M85.75 131.50 H72.15" stroke="#2e2e2e" stroke-width="0.95"/>
<path d="M70.15 131.50 l3.7 -1.9 v3.8 z" fill="#000"/>
<rect x="85.80" y="129.45" width="4.50" height="4.50" fill="none" stroke="#222" stroke-width="0.7"/>
<path d="M91.25 144.60 h4.50 M91.25 177.20 h4.50 M84.60 161.00 H101.90" fill="none" stroke="#2e2e2e" stroke-width="0.95"/>
<path d="M93.50 144.60 V177.20 M84.50 158.75 v4.50 M101.50 158.75 v4.50" fill="none" stroke="#333" stroke-width="0.85"/>
<rect x="91.15" y="158.65" width="4.50" height="4.50" fill="none" stroke="#222" stroke-width="0.7"/>
<path d="M85.65 170.70 h4.50 M85.65 204.30 h4.50 M79.10 187.50 H96.70" fill="none" stroke="#2e2e2e" stroke-width="0.95"/>
<path d="M87.90 170.70 V204.30 M79.50 185.25 v4.50 M96.50 185.25 v4.50" fill="none" stroke="#333" stroke-width="0.85"/>
<rect x="85.65" y="185.40" width="4.50" height="4.50" fill="none" stroke="#222" stroke-width="0.7"/>
<path d="M182.25 173.40 h4.50 M182.25 190.00 h4.50 M175.66 182.00 H192.80" fill="none" stroke="#2e2e2e" stroke-width="0.95"/>
<path d="M184.50 173.40 V190.00 M175.50 179.75 v4.50 M192.50 179.75 v4.50" fill="none" stroke="#333" stroke-width="0.85"/>
<rect x="182.14" y="179.59" width="4.50" height="4.50" fill="none" stroke="#222" stroke-width="0.7"/>
<path d="M62.95 69.95 h4.50 M62.95 126.00 h4.50 M56.50 98.00 H73.80" fill="none" stroke="#2e2e2e" stroke-width="0.95"/>
<path d="M65.20 69.95 V126.00 M56.50 95.75 v4.50 M73.50 95.75 v4.50" fill="none" stroke="#333" stroke-width="0.85"/>
<path d="M65.20 96.10 L67.40 100.06 L63.00 100.06 Z" fill="none" stroke="#000" stroke-width="0.8"/>
<path d="M92.25 201.50 h4.50 M92.25 226.70 h4.50 M86.10 214.50 H103.30" fill="none" stroke="#2e2e2e" stroke-width="0.95"/>
<path d="M94.50 201.50 V226.70 M86.50 212.25 v4.50 M103.50 212.25 v4.50" fill="none" stroke="#333" stroke-width="0.85"/>
<path d="M94.85 212.40 L97.05 216.36 L92.65 216.36 Z" fill="none" stroke="#000" stroke-width="0.8"/>
<path d="M120.25 221.35 h4.50 M120.25 254.50 h4.50 M114.40 238.00 H131.65" fill="none" stroke="#2e2e2e" stroke-width="0.95"/>
<path d="M122.50 221.35 V254.50 M114.50 235.75 v4.50 M131.50 235.75 v4.50" fill="none" stroke="#333" stroke-width="0.85"/>
<path d="M122.67 235.90 L124.87 239.86 L120.47 239.86 Z" fill="none" stroke="#000" stroke-width="0.8"/>
<path d="M331.25 196.00 h4.50 M331.25 223.30 h4.50 M315.60 209.95 H350.50" fill="none" stroke="#2e2e2e" stroke-width="0.95"/>
<path d="M333.50 196.00 V223.30 M315.50 207.70 v4.50 M350.50 207.70 v4.50" fill="none" stroke="#333" stroke-width="0.85"/>
<path d="M333.37 207.75 L335.57 211.71 L331.17 211.71 Z" fill="none" stroke="#000" stroke-width="0.8"/>
<path d="M107.25 201.50 h4.50 M107.25 229.30 h4.50 M100.30 215.50 H117.80" fill="none" stroke="#2e2e2e" stroke-width="0.95"/>
<path d="M109.50 201.50 V229.30 M100.50 213.25 v4.50 M117.50 213.25 v4.50" fill="none" stroke="#333" stroke-width="0.85"/>
<circle cx="109.00" cy="215.36" r="2.45" fill="#000"/>
<path d="M113.25 191.25 h4.50 M113.25 242.00 h4.50 M107.20 217.00 H124.45" fill="none" stroke="#2e2e2e" stroke-width="0.95"/>
<path d="M115.50 191.25 V242.00 M107.50 214.75 v4.50 M124.50 214.75 v4.50" fill="none" stroke="#333" stroke-width="0.85"/>
<circle cx="115.90" cy="216.90" r="2.45" fill="#000"/>
<path d="M182.25 173.40 h4.50 M182.25 218.20 h4.50 M175.66 196.00 H192.80" fill="none" stroke="#2e2e2e" stroke-width="0.95"/>
<path d="M184.50 173.40 V218.20 M175.50 193.75 v4.50 M192.50 193.75 v4.50" fill="none" stroke="#333" stroke-width="0.85"/>
<circle cx="184.39" cy="196.07" r="2.45" fill="#000"/>
<path d="M173.25 205.00 h4.50 M173.25 250.10 h4.50 M166.70 228.50 H184.30" fill="none" stroke="#2e2e2e" stroke-width="0.95"/>
<path d="M175.50 205.00 V250.10 M166.50 226.25 v4.50 M184.50 226.25 v4.50" fill="none" stroke="#333" stroke-width="0.85"/>
<circle cx="175.60" cy="228.20" r="2.45" fill="#000"/>
<path d="M225.25 235.40 h4.50 M225.25 246.20 h4.50 M219.70 240.83 H236.20" fill="none" stroke="#2e2e2e" stroke-width="0.95"/>
<path d="M227.50 235.40 V246.20 M219.50 238.58 v4.50 M236.50 238.58 v4.50" fill="none" stroke="#333" stroke-width="0.85"/>
<circle cx="227.86" cy="240.83" r="2.45" fill="#000"/>
<circle cx="310.5" cy="41.9" r="2.35" fill="#000"/>
<path d="M310.5 50.5 L312.8 55.0 L308.2 55.0 Z" fill="none" stroke="#111" stroke-width="0.85"/>
<rect x="308.5" y="62.5" width="4" height="4" fill="none" stroke="#222" stroke-width="0.9"/>
<text x="316.00" y="44.10" font-size="6.2" text-anchor="start" fill="#5c5c5c" >IFU</text>
<text x="316.00" y="55.30" font-size="6.3" text-anchor="start" fill="#5c5c5c" >longslit</text>
<text x="316.00" y="66.00" font-size="6.0" text-anchor="start" fill="#5c5c5c" >CO</text>
<text x="41.40" y="266.50" font-size="8.0" text-anchor="end" fill="#666" >0</text>
<text x="41.40" y="212.74" font-size="8.0" text-anchor="end" fill="#666" >200</text>
<text x="41.40" y="156.78" font-size="8.0" text-anchor="end" fill="#666" >400</text>
<text x="41.40" y="100.82" font-size="8.0" text-anchor="end" fill="#666" >600</text>
<text x="41.40" y="44.86" font-size="8.0" text-anchor="end" fill="#666" >800</text>
<text x="122.80" y="277.00" font-size="8.2" text-anchor="middle" fill="#666" >5</text>
<text x="210.55" y="277.00" font-size="8.2" text-anchor="middle" fill="#666" >10</text>
<text x="298.30" y="277.00" font-size="8.2" text-anchor="middle" fill="#666" >15</text>
<text x="386.05" y="277.00" font-size="8.2" text-anchor="middle" fill="#666" >20</text>
<text y="285.7" fill="#666"><tspan x="198.8" font-size="7.2" letter-spacing="-0.5">ΔR</tspan><tspan x="211.6" font-size="7.0" letter-spacing="0.85">(kpc)</tspan></text>
<text transform="translate(21.6,159.1) rotate(-90)" fill="#666"><tspan font-size="6.4" font-style="italic" letter-spacing="0.3" dy="-0.9">Δv</tspan><tspan x="11.6" dy="0.6" font-size="7.4" letter-spacing="1.0">(km/s)</tspan></text>
<g transform="translate(281.2,175.50) skewY(7.3)" font-size="6.7" fill="#585858"><text x="0" y="0">log(</text><text transform="translate(11.5,0) scale(0.78,1)" font-style="italic">M</text><text transform="translate(16.2,0) scale(1.5,1)">/</text><text transform="translate(19.3,0) scale(0.78,1)" font-style="italic">M</text><text x="24.0" y="2.7" font-size="4.8" fill="#444">⊙</text><text x="28.3" y="0">)</text><text x="31.2" y="0">=</text><text x="35.7" y="0">12.25</text></g>
<g transform="translate(281.2,198.20) skewY(6.5)" font-size="6.7" fill="#585858"><text x="0" y="0">log(</text><text transform="translate(11.5,0) scale(0.78,1)" font-style="italic">M</text><text transform="translate(16.2,0) scale(1.5,1)">/</text><text transform="translate(19.3,0) scale(0.78,1)" font-style="italic">M</text><text x="24.0" y="2.7" font-size="4.8" fill="#444">⊙</text><text x="28.3" y="0">)</text><text x="31.2" y="0">=</text><text x="35.7" y="0">12.0</text></g>
<g transform="translate(281.2,215.10) skewY(4.3)" font-size="6.7" fill="#585858"><text x="0" y="0">log(</text><text transform="translate(11.5,0) scale(0.78,1)" font-style="italic">M</text><text transform="translate(16.2,0) scale(1.5,1)">/</text><text transform="translate(19.3,0) scale(0.78,1)" font-style="italic">M</text><text x="24.0" y="2.7" font-size="4.8" fill="#444">⊙</text><text x="28.3" y="0">)</text><text x="31.2" y="0">=</text><text x="35.7" y="0">11.75</text></g>
<g transform="translate(281.2,226.80) skewY(4.0)" font-size="6.7" fill="#585858"><text x="0" y="0">log(</text><text transform="translate(11.5,0) scale(0.78,1)" font-style="italic">M</text><text transform="translate(16.2,0) scale(1.5,1)">/</text><text transform="translate(19.3,0) scale(0.78,1)" font-style="italic">M</text><text x="24.0" y="2.7" font-size="4.8" fill="#444">⊙</text><text x="28.3" y="0">)</text><text x="31.2" y="0">=</text><text x="35.7" y="0">11.5</text></g>
<g transform="translate(281.2,235.90) skewY(4.0)" font-size="6.7" fill="#585858"><text x="0" y="0">log(</text><text transform="translate(11.5,0) scale(0.78,1)" font-style="italic">M</text><text transform="translate(16.2,0) scale(1.5,1)">/</text><text transform="translate(19.3,0) scale(0.78,1)" font-style="italic">M</text><text x="24.0" y="2.7" font-size="4.8" fill="#444">⊙</text><text x="28.3" y="0">)</text><text x="31.2" y="0">=</text><text x="35.7" y="0">11.25</text></g>
<g transform="translate(281.2,242.80) skewY(3.5)" font-size="6.7" fill="#585858"><text x="0" y="0">log(</text><text transform="translate(11.5,0) scale(0.78,1)" font-style="italic">M</text><text transform="translate(16.2,0) scale(1.5,1)">/</text><text transform="translate(19.3,0) scale(0.78,1)" font-style="italic">M</text><text x="24.0" y="2.7" font-size="4.8" fill="#444">⊙</text><text x="28.3" y="0">)</text><text x="31.2" y="0">=</text><text x="35.7" y="0">11.0</text></g>
<g transform="translate(281.2,248.30) skewY(2.8)" font-size="6.7" fill="#585858"><text x="0" y="0">log(</text><text transform="translate(11.5,0) scale(0.78,1)" font-style="italic">M</text><text transform="translate(16.2,0) scale(1.5,1)">/</text><text transform="translate(19.3,0) scale(0.78,1)" font-style="italic">M</text><text x="24.0" y="2.7" font-size="4.8" fill="#444">⊙</text><text x="28.3" y="0">)</text><text x="31.2" y="0">=</text><text x="35.7" y="0">10.75</text></g>
</svg>
</div>
</body></html>
